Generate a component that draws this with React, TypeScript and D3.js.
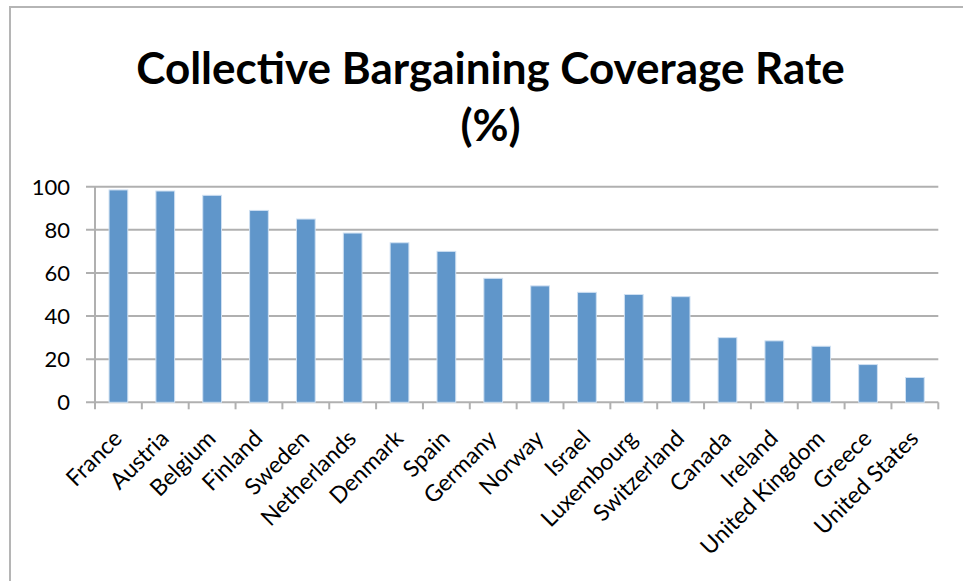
import React from "react";
import * as d3 from "d3";

const countries = [
  "France", "Austria", "Belgium", "Finland", "Sweden", "Netherlands", "Denmark", "Spain",
  "Germany", "Norway", "Israel", "Luxembourg", "Switzerland", "Canada", "Ireland",
  "United Kingdom", "Greece", "United States",
];
const coverage = [98.5, 98, 96, 89, 85, 78.5, 74, 70, 57.5, 54, 51, 50, 49, 30, 28.5, 26, 17.5, 11.5];
const yTicks = [0, 20, 40, 60, 80, 100];
const titleLines = ["Collective Bargaining Coverage Rate", "(%)"];

const W = 963;
const H = 581;
const FONT = "Lato, 'Open Sans', sans-serif";

export default function App() {
  const x = d3.scaleBand<string>().domain(countries).range([95, 938.3]).paddingInner(0.6).paddingOuter(0.3);
  const y = d3.scaleLinear().domain([0, 100]).range([402.3, 186.7]);
  const step = x.step();
  const x0 = 95;
  const boundaries = d3.range(countries.length + 1).map((i) => x0 + i * step);
  const gridColor = "#b0b0b0";

  return (
    <svg width={W} height={H} style={{ position: "absolute", left: 0, top: 0, background: "#fff" }}>
      <rect x={10} y={7} width={W + 20} height={H + 20} fill="none" stroke="#b5b5b5" strokeWidth={2} />
      {titleLines.map((t, i) => (
        <text key={t} x={490.5} y={84 + i * 57} textAnchor="middle" fontFamily={FONT} fontWeight={700} fontSize={44} fill="#000">
          {t}
        </text>
      ))}
      {yTicks.map((v) => (
        <g key={v}>
          <line x1={86} x2={938.3} y1={y(v)} y2={y(v)} stroke={gridColor} strokeWidth={2} />
          <text x={70} y={y(v)} dy="0.36em" textAnchor="end" fontFamily={FONT} fontSize={22} fill="#000">
            {v}
          </text>
        </g>
      ))}
      <line x1={95} x2={95} y1={y(100)} y2={y(0)} stroke={gridColor} strokeWidth={2} />
      {boundaries.map((bx, i) => (
        <line key={i} x1={bx} x2={bx} y1={y(0)} y2={y(0) + 7} stroke={gridColor} strokeWidth={2} />
      ))}
      {countries.map((c, i) => (
        <rect
          key={c}
          x={x(c)}
          y={y(coverage[i])}
          width={x.bandwidth()}
          height={y(0) - y(coverage[i])}
          fill="#6096ca"
          stroke="#cfe0f2"
          strokeWidth={1}
        />
      ))}
      {countries.map((c) => {
        const cx = (x(c) as number) + x.bandwidth() / 2;
        return (
          <text
            key={c}
            transform={`translate(${cx + 5},${440}) rotate(-45)`}
            textAnchor="end"
            fontFamily={FONT}
            fontSize={23}
            fill="#000"
          >
            {c}
          </text>
        );
      })}
    </svg>
  );
}
